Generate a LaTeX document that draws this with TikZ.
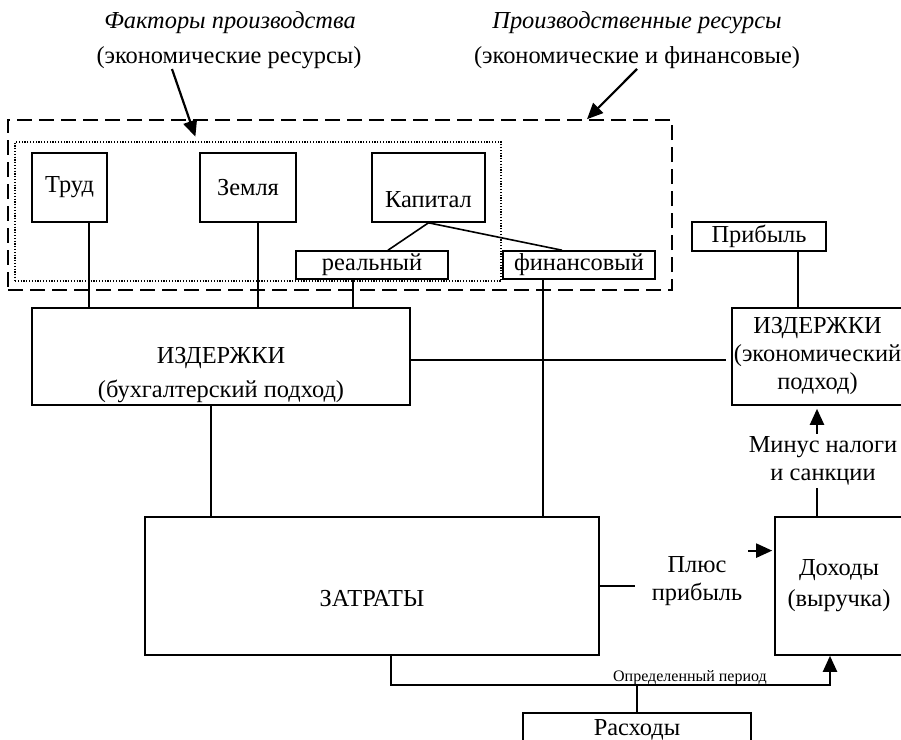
\documentclass[tikz,border=0pt]{standalone}
\usepackage{fontspec}
\setmainfont{Liberation Serif}
\usetikzlibrary{arrows.meta}

\begin{document}
\begin{tikzpicture}[x=0.5pt, y=-0.5pt, line width=0.8pt,
    font=\fontsize{12.2}{14}\selectfont,
    box/.style={draw, inner sep=0pt},
    lbl/.style={inner sep=1pt, align=center},
    ttl/.style={inner sep=0pt, anchor=base},
    arr/.style={line width=1.1pt, -{Triangle[length=8pt, width=7pt]}}]
    \useasboundingbox (0,0) rectangle (901,740);
    \clip (0,0) rectangle (901,740);

    \node[ttl] (fac1) at (230,28) {\textit{Факторы производства}};
    \node[ttl] (eco1) at (229,63) {(экономические ресурсы)};
    \node[ttl] (pro1) at (637,28) {\textit{Производственные ресурсы}};
    \node[ttl] (eco2) at (637,63) {(экономические и финансовые)};

    \node[draw, inner sep=0pt, dash pattern=on 7.5pt off 3.5pt, minimum width=332pt, minimum height=85pt] (res) at (340,205) {};
    \node[draw, inner sep=0pt, line width=0.6pt, dash pattern=on 0.6pt off 0.8pt, minimum width=243pt, minimum height=69.5pt] (fac) at (258,211.5) {};

    \node[box, minimum width=37.5pt, minimum height=34.5pt] (trud) at (69.5,187.5) {Труд};
    \node[box, minimum width=48pt, minimum height=34.5pt] (zem) at (248,187.5) {Земля};
    \node[box, minimum width=56.5pt, minimum height=34.5pt, text height=20pt, text depth=0pt] (kap) at (428.5,187.5) {Капитал};
    \node[box, minimum width=76pt, minimum height=14pt] (real) at (372,265) {реальный};
    \node[box, minimum width=76pt, minimum height=14pt] (fin) at (579,265) {финансовый};
    \node[box, minimum width=67pt, minimum height=14.5pt] (prib) at (759,236.5) {Прибыль};

    \node[box, minimum width=189pt, minimum height=48.5pt] (izdb) at (221,356.5) {};
    \node[lbl] (izdbt) at (221,375.5) {ИЗДЕРЖКИ\\[3pt](бухгалтерский подход)};
    \node[box, minimum width=85.5pt, minimum height=48.5pt, align=center] (izde) at (817.5,356.5) {ИЗДЕРЖКИ\\(экономический\\подход)};
    \node[lbl] (minus) at (823,461) {Минус налоги\\и санкции};

    \node[box, minimum width=227pt, minimum height=69pt, text height=20pt, text depth=0pt] (zatr) at (372,586) {ЗАТРАТЫ};
    \node[lbl] (plus) at (697,581) {Плюс\\прибыль};
    \node[box, minimum width=64pt, minimum height=69pt, align=center] (doh) at (839,586) {Доходы\\[1.5pt](выручка)};
    \node[inner sep=0pt, anchor=base, font=\fontsize{8}{9}\selectfont] (per) at (690,681) {Определенный период};
    \node[box, minimum width=114pt, minimum height=17pt] (rash) at (637,730) {Расходы};

    \draw[arr, shorten >=2.5pt] ([xshift=-28.5pt]eco1.south) -- ([xshift=-30.5pt]fac.north);
    \draw[arr] (eco2.south) -- ([xshift=123.5pt]res.north);

    \draw ([xshift=9.75pt]trud.south) -- ([xshift=9.75pt]trud.south |- izdb.north);
    \draw ([xshift=5pt]zem.south) -- ([xshift=5pt]zem.south |- izdb.north);
    \draw (kap.south) -- ([xshift=8pt]real.north);
    \draw (kap.south) -- ([xshift=-8.5pt]fin.north);
    \draw ([xshift=-9.5pt]real.south) -- ([xshift=-9.5pt]real.south |- izdb.north);
    \draw ([xshift=-18pt]fin.south) -- ([xshift=-18pt]fin.south |- zatr.north);
    \draw ([xshift=19.5pt]prib.south) -- ([xshift=19.5pt]prib.south |- izde.north);
    \draw[shorten >=2.5pt] ([yshift=-1.75pt]izdb.east) -- ([yshift=-1.75pt]izdb.east -| izde.west);
    \draw ([xshift=-5pt]izdb.south) -- ([xshift=-5pt]izdb.south |- zatr.north);

    \draw[arr, shorten >=1.5pt] ([xshift=-3pt]minus.north) -- ([xshift=-3pt]minus.north |- izde.south);
    \draw ([xshift=-3pt]minus.south) -- ([xshift=-3pt]minus.south |- doh.north);
    \draw[shorten >=7pt] (zatr.east) -- (zatr.east -| plus.west);
    \draw[arr, shorten >=2.5pt] ([xshift=1.5pt, yshift=1.5pt]plus.north east) -- ([xshift=1.5pt, yshift=1.5pt]plus.north east -| doh.west);

    \path ([xshift=9.5pt]zatr.south) ++(0,29) coordinate (bl);
    \draw[arr] ([xshift=9.5pt]zatr.south) -- (bl) -| ([xshift=-4.5pt]doh.south);
    \draw (rash.north) -- (rash.north |- bl);
\end{tikzpicture}
\end{document}
